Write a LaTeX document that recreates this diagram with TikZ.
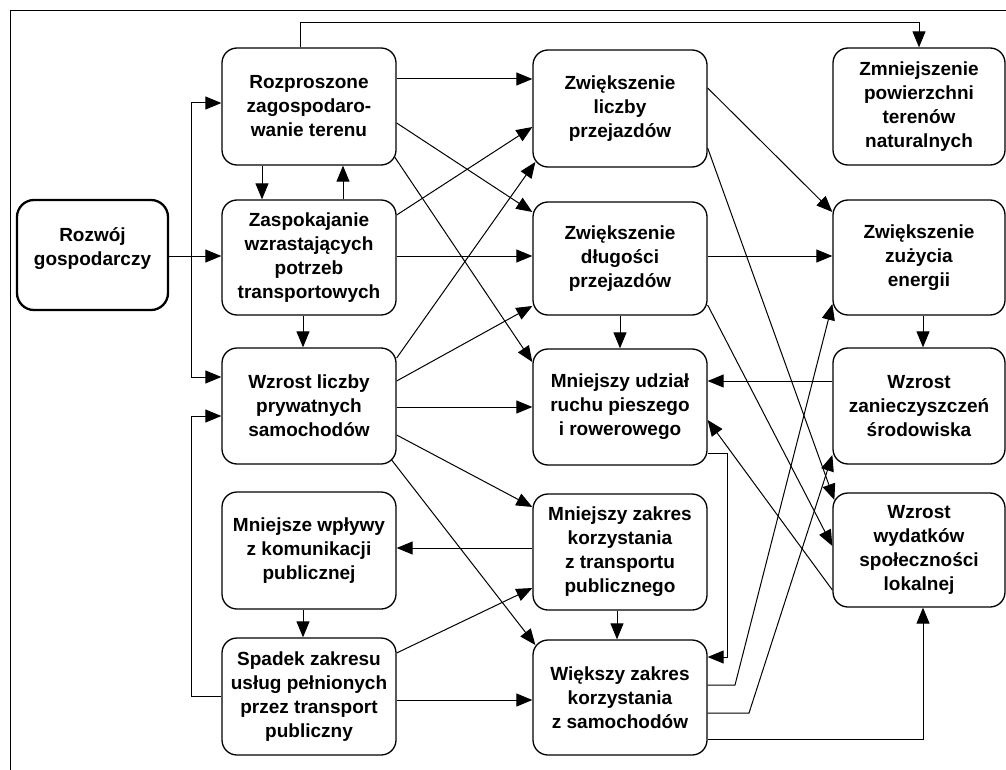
\documentclass[tikz,border=0pt]{standalone}
\usepackage{fontspec}
\setmainfont{Liberation Sans}
\usetikzlibrary{arrows.meta,calc}
\begin{document}
\begin{tikzpicture}[x=1pt,y=-1pt,
  box/.style={draw, line width=1.3pt, rounded corners=15pt, minimum width=174pt,
    minimum height=116pt, inner sep=0pt, align=center,
    font=\bfseries\fontsize{19}{24}\selectfont},
  mainbox/.style={box, line width=2.3pt, rounded corners=17pt, minimum width=151pt, minimum height=110pt},
  conn/.style={line width=1pt, -{Triangle[length=16pt,width=13pt]}},
  plain/.style={line width=1pt}]
\useasboundingbox (0,0) rectangle (1006,770);
% frame
\draw[line width=1pt] (10,770) -- (10,11) -- (1006,11);

% nodes
\node[mainbox] (roz) at (92.5,255) {Rozwój\\gospodarczy\\[-8pt]\mbox{}};

\node[box, minimum height=117pt] (rozp) at (309,106.5) {Rozproszone\\zagospodaro-\\wanie terenu};
\node[box, minimum height=115pt] (zasp) at (309,257.5) {Zaspokajanie\\wzrastających\\potrzeb\\transportowych};
\node[box] (wzl) at (309,406) {Wzrost liczby\\prywatnych\\samochodów};
\node[box, minimum height=117pt] (mwp) at (309,550.5) {Mniejsze wpływy\\z komunikacji\\publicznej};
\node[box, minimum height=117pt] (spa) at (309,696.5) {Spadek zakresu\\usług pełnionych\\przez transport\\publiczny};

\node[box, minimum height=117pt] (zlp) at (620,108.5) {Zwiększenie\\liczby\\przejazdów};
\node[box, minimum height=113pt] (zdp) at (620,258.5) {Zwiększenie\\długości\\przejazdów};
\node[box] (mud) at (620,407) {Mniejszy udział\\ruchu pieszego\\i rowerowego};
\node[box] (mzk) at (620,552) {Mniejszy zakres\\korzystania\\z transportu\\publicznego};
\node[box, minimum height=115pt] (wzk) at (620,697.5) {Większy zakres\\korzystania\\z samochodów};

\node[box, minimum width=172pt, minimum height=117pt] (zpt) at (919,106.5) {Zmniejszenie\\powierzchni\\terenów\\naturalnych};
\node[box, minimum width=172pt, minimum height=115pt] (zze) at (919,257.5) {Zwiększenie\\zużycia\\energii};
\node[box, minimum width=172pt] (wzs) at (919,406) {Wzrost\\zanieczyszczeń\\środowiska};
\node[box, minimum width=172pt, minimum height=114pt] (wwy) at (919,550) {Wzrost\\wydatków\\społeczności\\lokalnej};

% helper coordinates
\coordinate (split) at (191,256);
\coordinate (fb) at (191,416);
\coordinate (topc) at (300,23);
\coordinate (lp) at (727,453);
\coordinate (b1) at (735,685);
\coordinate (b2) at (749,713);
\coordinate (bx) at (923,739);

% left connectors
\draw[plain] (roz.east |- split) -- (split);
\draw[conn] (split) -- (zasp.west |- split);
\draw[conn] (split) |- (rozp.west |- 0,103);
\draw[conn] (split) |- (wzl.west |- 0,377);
\draw[conn] (spa.west |- 0,696) -| (fb) -- (wzl.west |- fb);

% column 2 verticals
\draw[conn] (rozp.south -| 262,0) -- (zasp.north -| 262,0);
\draw[conn] (zasp.north -| 343,0) -- (rozp.south -| 343,0);
\draw[conn] (zasp.south -| 303,0) -- (wzl.north -| 303,0);
\draw[conn] (mwp.south -| 303,0) -- (spa.north -| 303,0);

% top line
\draw[conn] (rozp.north -| topc) -- (topc) -| (zpt.north);

% column 2 -> column 3
\draw[conn] (rozp.east |- 0,79) -- (zlp.west |- 0,79);
\draw[conn] (rozp.east |- 0,123) -- (zdp.west |- 0,212);
\draw[conn] ($(rozp.east |- 0,157)+(-2,0)$) -- (mud.west |- 0,362);
\draw[conn] (zasp.east |- 0,215) -- (zlp.west |- 0,127);
\draw[conn] (zasp.east |- 0,256) -- (zdp.west |- 0,256);
\draw[conn] (wzl.east |- 0,358) -- ($(zlp.west |- 0,162)+(3,0)$);
\draw[conn] (wzl.east |- 0,381) -- (zdp.west |- 0,306);
\draw[conn] (wzl.east |- 0,407) -- (mud.west |- 0,407);
\draw[conn] (wzl.east |- 0,435) -- (mzk.west |- 0,507);
\draw[conn] ($(wzl.east |- 0,460)+(-5,0)$) -- ($(wzk.west |- 0,645)+(3,0)$);
\draw[conn] (mzk.west |- 0,548) -- (mwp.east |- 0,548);
\draw[conn] (spa.east |- 0,653) -- (mzk.west |- 0,588);
\draw[conn] (spa.east |- 0,700) -- (wzk.west |- 0,700);

% column 3 verticals
\draw[conn] (zdp.south -| 620,0) -- (mud.north -| 620,0);
\draw[conn] (mzk.south -| 617,0) -- (wzk.north -| 617,0);

% column 3 <-> column 4
\draw[conn] (zlp.east |- 0,88) -- (zze.west |- 0,212);
\draw[conn] (zlp.east |- 0,148) -- ($(wwy.west |- 0,500)+(2,0)$);
\draw[conn] (zdp.east |- 0,256) -- (zze.west |- 0,256);
\draw[conn] (zdp.east |- 0,305) -- (wwy.west |- 0,546);
\draw[conn] (wzs.west |- 0,381) -- (mud.east |- 0,381);
\draw[conn] (wwy.west |- 0,590) -- (mud.east |- 0,420);
\draw[conn] (mud.east |- lp) -- (lp) |- (wzk.east |- 0,657);
\draw[conn] (wzk.east |- b1) -- (b1) -- (zze.west |- 0,304);
\draw[conn] (wzk.east |- b2) -- (b2) -- (wzs.west |- 0,455);
\draw[conn] (wzk.east |- bx) -- (bx) -- (wwy.south -| bx);

% column 4 vertical
\draw[conn] (zze.south -| bx) -- (wzs.north -| bx);
\end{tikzpicture}
\end{document}
